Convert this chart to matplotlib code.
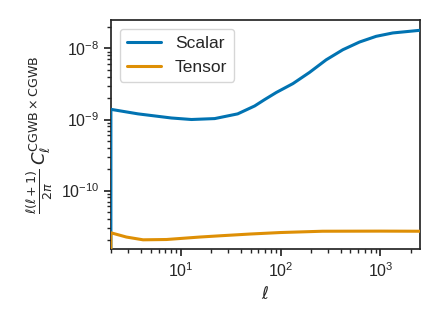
import matplotlib
matplotlib.use("Agg")
import matplotlib.pyplot as plt
import seaborn as sns

sns.set_theme(style="ticks", palette="colorblind")
plt.rcParams['font.family'] = ['Liberation Sans', 'DejaVu Sans']

# multipoles (first point repeated so the curve drops to the axis floor at l=2)
ell_s = [2, 2, 3.74, 8.07, 12.8, 21.9, 37.2, 55, 69, 90.6, 133, 195, 286,
         420, 617, 906, 1328, 2500]
scalar = [1e-12, 1.39e-9, 1.20e-9, 1.05e-9, 1.00e-9, 1.03e-9, 1.20e-9, 1.55e-9,
          1.90e-9, 2.40e-9, 3.20e-9, 4.60e-9, 6.91e-9, 9.58e-9, 1.23e-8,
          1.48e-8, 1.65e-8, 1.80e-8]

ell_t = [2, 2, 2.86, 4.2, 7.2, 15.5, 24.5, 50, 100, 263, 1000, 2500]
tensor = [1e-12, 2.55e-11, 2.22e-11, 2.03e-11, 2.05e-11, 2.22e-11, 2.31e-11,
          2.45e-11, 2.57e-11, 2.68e-11, 2.69e-11, 2.68e-11]

fig = plt.figure(figsize=(4.4, 3.3), dpi=100)
ax = fig.add_axes([0.252, 0.245, 0.703, 0.694])

ax.plot(ell_s, scalar, lw=2.2, label='Scalar', zorder=3)
ax.plot(ell_t, tensor, lw=2.2, label='Tensor', zorder=3)

ax.set_xscale('log')
ax.set_yscale('log')
ax.set_xlim(2, 2500)
ax.set_ylim(1.5e-11, 2.5e-8)

ax.set_xlabel(r'$\ell$', fontsize=12)
ax.set_ylabel(r'$\frac{\ell(\ell+1)}{2\pi}\,C_\ell^{\rm CGWB\times CGWB}$', fontsize=13)
ax.tick_params(labelsize=11.5)
ax.tick_params(which='major', length=5)
ax.tick_params(which='minor', length=3)

ax.legend(loc='upper left', fontsize=12.5)

fig.savefig('out.png', dpi=100)
